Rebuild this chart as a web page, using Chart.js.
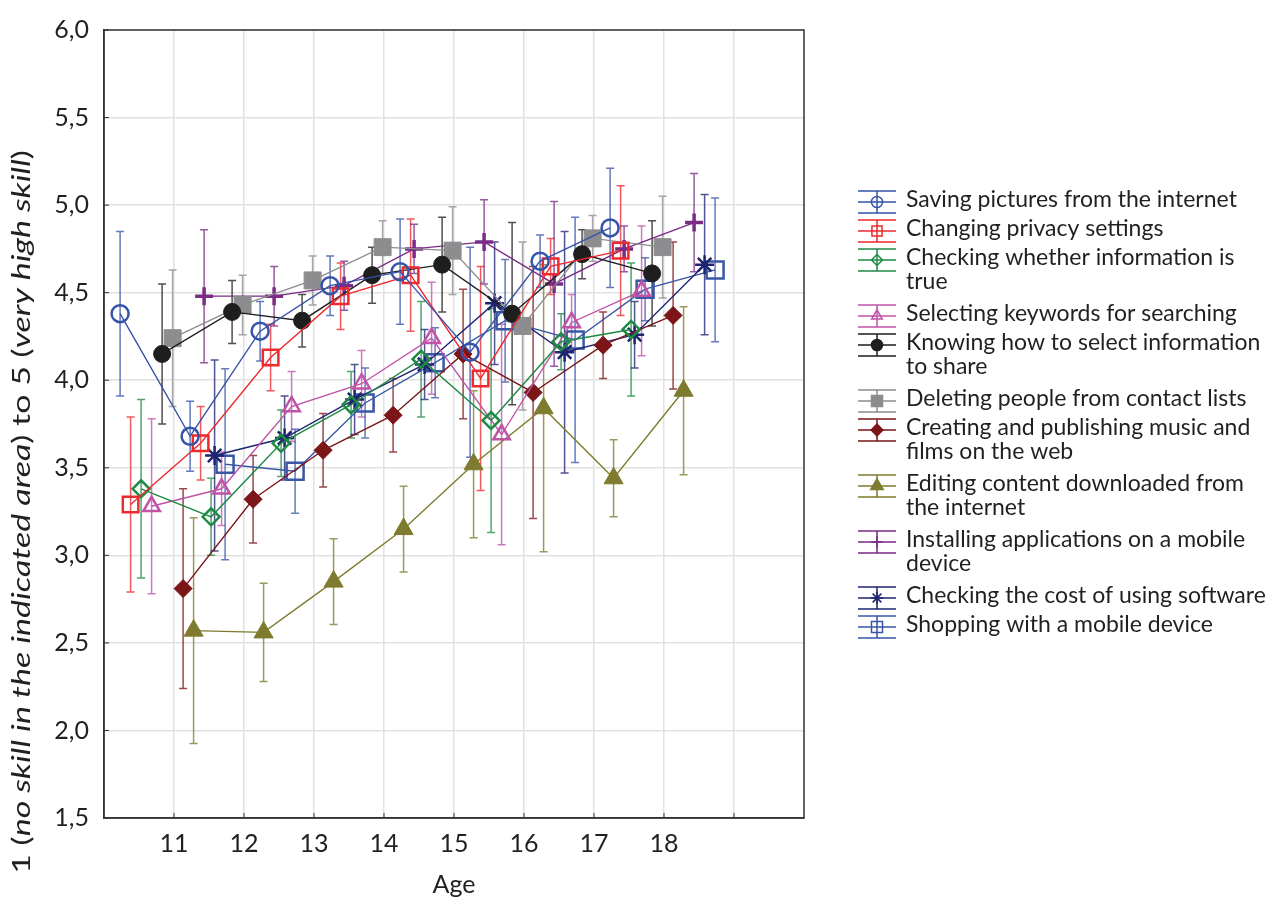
<!DOCTYPE html>
<html>
<head>
<meta charset="utf-8">
<script src="https://cdn.jsdelivr.net/npm/chart.js@4.4.1/dist/chart.umd.min.js"></script>
<style>
    html, body { margin: 0; padding: 0; background: #fff; }
    #wrap { width: 1276px; height: 904px; }
</style>
</head>
<body>
<div id="wrap"><canvas id="skills-chart" width="1276" height="904"></canvas></div>
<script>
// --- Data ---
const ages = [11, 12, 13, 14, 15, 16, 17, 18];

const seriesNames = [
    'Saving pictures from the internet',
    'Changing privacy settings',
    'Checking whether information is\ntrue',
    'Selecting keywords for searching',
    'Knowing how to select information\nto share',
    'Deleting people from contact lists',
    'Creating and publishing music and\nfilms on the web',
    'Editing content downloaded from\nthe internet',
    'Installing applications on a mobile\ndevice',
    'Checking the cost of using software',
    'Shopping with a mobile device'
];

// means per age
const savingPictures   = [4.38, 3.68, 4.28, 4.54, 4.62, 4.16, 4.68, 4.87];
const privacySettings  = [3.29, 3.64, 4.13, 4.48, 4.60, 4.01, 4.65, 4.74];
const checkingTrue     = [3.38, 3.22, 3.64, 3.86, 4.12, 3.77, 4.22, 4.29];
const selectKeywords   = [3.28, 3.38, 3.85, 3.98, 4.24, 3.69, 4.33, 4.51];
const selectToShare    = [4.15, 4.39, 4.34, 4.60, 4.66, 4.38, 4.72, 4.61];
const deletingContacts = [4.24, 4.43, 4.57, 4.76, 4.74, 4.31, 4.81, 4.76];
const creatingMusic    = [2.81, 3.32, 3.60, 3.80, 4.15, 3.93, 4.20, 4.37];
const editingContent   = [2.57, 2.56, 2.85, 3.15, 3.52, 3.84, 3.44, 3.94];
const installingApps   = [4.48, 4.48, 4.54, 4.75, 4.79, 4.55, 4.75, 4.90];
const checkingCost     = [3.57, 3.67, 3.89, 4.09, 4.44, 4.16, 4.26, 4.66];
const mobileShopping   = [3.52, 3.48, 3.87, 4.10, 4.34, 4.23, 4.52, 4.63];

// half-width of the confidence interval per age
const savingPicturesErr   = [0.47, 0.20, 0.17, 0.17, 0.30, 0.60, 0.15, 0.34];
const privacySettingsErr  = [0.50, 0.21, 0.19, 0.19, 0.32, 0.64, 0.16, 0.37];
const checkingTrueErr     = [0.51, 0.22, 0.19, 0.19, 0.33, 0.64, 0.16, 0.38];
const selectKeywordsErr   = [0.50, 0.21, 0.20, 0.19, 0.32, 0.63, 0.16, 0.37];
const selectToShareErr    = [0.40, 0.18, 0.15, 0.16, 0.27, 0.52, 0.14, 0.30];
const deletingContactsErr = [0.39, 0.17, 0.14, 0.15, 0.25, 0.48, 0.13, 0.29];
const creatingMusicErr    = [0.57, 0.25, 0.21, 0.21, 0.37, 0.72, 0.19, 0.42];
const editingContentErr   = [0.645, 0.28, 0.245, 0.245, 0.42, 0.82, 0.22, 0.48];
const installingAppsErr   = [0.38, 0.17, 0.14, 0.14, 0.24, 0.47, 0.13, 0.28];
const checkingCostErr     = [0.545, 0.24, 0.20, 0.20, 0.35, 0.69, 0.19, 0.40];
const mobileShoppingErr   = [0.545, 0.24, 0.20, 0.20, 0.35, 0.70, 0.18, 0.41];

const yTicks = [1.5, 2.0, 2.5, 3.0, 3.5, 4.0, 4.5, 5.0, 5.5, 6.0];

// --- Styles ---
const FONT = 'Lato, "Noto Sans", sans-serif';
const TEXT_COLOR = '#231f20';

const allMeans = [savingPictures, privacySettings, checkingTrue, selectKeywords, selectToShare,
    deletingContacts, creatingMusic, editingContent, installingApps, checkingCost, mobileShopping];
const allErrs = [savingPicturesErr, privacySettingsErr, checkingTrueErr, selectKeywordsErr, selectToShareErr,
    deletingContactsErr, creatingMusicErr, editingContentErr, installingAppsErr, checkingCostErr, mobileShoppingErr];

// colour, marker, size, filled?, stroke
const styles = [
    { color: '#3553a8', style: 'circle',   radius: 8.5, filled: false, stroke: 2.5 },
    { color: '#ed2a2e', style: 'rect',     radius: 11,  filled: false, stroke: 2.5 },
    { color: '#1f8a45', style: 'rectRot',  radius: 8.5, filled: false, stroke: 2.5 },
    { color: '#c053a8', style: 'triangle', radius: 9.5, filled: false, stroke: 2.5 },
    { color: '#1e1e1e', style: 'circle',   radius: 8.5, filled: true,  stroke: 1 },
    { color: '#8d8d8f', style: 'rect',     radius: 12,  filled: true,  stroke: 1 },
    { color: '#7b1518', style: 'rectRot',  radius: 9,   filled: true,  stroke: 1 },
    { color: '#7e7b2e', style: 'triangle', radius: 11,  filled: true,  stroke: 1 },
    { color: '#7b2a86', style: 'cross',    radius: 9,   filled: true,  stroke: 3.5 },
    { color: '#1f2471', style: 'star',     radius: 9.5, filled: true,  stroke: 2.5 },
    { color: '#3a57a6', style: 'rect',     radius: 12,  filled: false, stroke: 2.5 }
];

function withAlpha(hex, a) {
    const n = parseInt(hex.slice(1), 16);
    return `rgba(${(n >> 16) & 255}, ${(n >> 8) & 255}, ${n & 255}, ${a})`;
}

// series are dodged sideways around each age
const dodge = i => (i - 5) * 0.15 - 0.02;

const datasets = allMeans.map((means, i) => {
    const s = styles[i];
    return {
        label: seriesNames[i],
        data: means.map((v, k) => ({ x: ages[k] + dodge(i), y: v })),
        errors: allErrs[i],
        showLine: true,
        borderColor: s.color,
        borderWidth: 1.4,
        pointStyle: s.style,
        pointRadius: s.radius,
        pointHoverRadius: s.radius,
        pointBorderWidth: s.stroke,
        pointBorderColor: s.color,
        pointBackgroundColor: s.filled ? s.color : 'rgba(255,255,255,0)',
        backgroundColor: s.color
    };
});

// --- Plugins ---
// error bars, drawn under the markers
const errorBars = {
    id: 'errorBars',
    beforeDatasetsDraw(chart) {
        const { ctx, scales: { x, y } } = chart;
        ctx.save();
        chart.data.datasets.forEach((ds, i) => {
            ctx.strokeStyle = withAlpha(styles[i].color, 0.78);
            ctx.lineWidth = 1.5;
            ds.data.forEach((p, k) => {
                const px = x.getPixelForValue(p.x);
                const top = y.getPixelForValue(p.y + ds.errors[k]);
                const bot = y.getPixelForValue(p.y - ds.errors[k]);
                ctx.beginPath();
                ctx.moveTo(px, top); ctx.lineTo(px, bot);
                ctx.moveTo(px - 4, top); ctx.lineTo(px + 4, top);
                ctx.moveTo(px - 4, bot); ctx.lineTo(px + 4, bot);
                ctx.stroke();
            });
        });
        ctx.restore();
    }
};

// box around the plot and small inward ticks
const frame = {
    id: 'frame',
    afterDraw(chart) {
        const { ctx, chartArea: a, scales: { x, y } } = chart;
        ctx.save();
        ctx.strokeStyle = '#333';
        ctx.lineWidth = 1.5;
        ctx.strokeRect(a.left, a.top, a.right - a.left, a.bottom - a.top);
        ctx.lineWidth = 1;
        ctx.beginPath();
        for (let v = 11; v <= 19; v++) {
            const px = x.getPixelForValue(v);
            ctx.moveTo(px, a.bottom); ctx.lineTo(px, a.bottom - 5);
        }
        yTicks.forEach(v => {
            const py = y.getPixelForValue(v);
            ctx.moveTo(a.left, py); ctx.lineTo(a.left + 5, py);
        });
        ctx.stroke();
        ctx.restore();
    }
};

// rotated y title with italic parts (the original text is drawn stretched along its length)
const yTitle = {
    id: 'yTitle',
    afterDraw(chart) {
        const { ctx } = chart;
        const parts = [
            ['1 (', false], ['no skill in the indicated area', true], [') to 5 (', false],
            ['very high skill', true], [')', false]
        ];
        const fontFor = it => `${it ? 'italic ' : ''}25px ${FONT}`;
        const stretch = 1.36;
        ctx.save();
        let total = 0;
        parts.forEach(([t, it]) => { ctx.font = fontFor(it); total += ctx.measureText(t).width; });
        ctx.translate(22, 512);
        ctx.rotate(-Math.PI / 2);
        ctx.scale(stretch, 1);
        ctx.fillStyle = TEXT_COLOR;
        ctx.textBaseline = 'middle';
        let cx = -total / 2;
        parts.forEach(([t, it]) => {
            ctx.font = fontFor(it);
            ctx.fillText(t, cx, 0);
            cx += ctx.measureText(t).width;
        });
        ctx.restore();
    }
};

// legend on the right, wrapped labels
const sideLegend = {
    id: 'sideLegend',
    afterDraw(chart) {
        const { ctx } = chart;
        ctx.save();
        ctx.font = `23px ${FONT}`;
        ctx.textBaseline = 'middle';
        let y = 200;
        chart.data.datasets.forEach((ds, i) => {
            const s = styles[i];
            const lines = ds.label.split('\n');
            const sy = y + 2;
            ctx.strokeStyle = s.color;
            ctx.lineWidth = 1.5;
            ctx.beginPath();
            [-11, 0, 11].forEach(d => { ctx.moveTo(858, sy + d); ctx.lineTo(896, sy + d); });
            ctx.moveTo(877, sy - 11); ctx.lineTo(877, sy + 11);
            ctx.stroke();
            ctx.fillStyle = s.filled ? s.color : 'rgba(255,255,255,0)';
            Chart.helpers.drawPoint(ctx, {
                pointStyle: s.style,
                radius: s.radius * 0.65,
                rotation: 0,
                borderWidth: s.style === 'cross' ? 3 : 1.5
            }, 877, sy);
            ctx.fillStyle = TEXT_COLOR;
            lines.forEach((t, k) => ctx.fillText(t, 906, y + k * 23.5));
            y += 29 + (lines.length - 1) * 27;
        });
        ctx.restore();
    }
};

// --- Chart ---
new Chart(document.getElementById('skills-chart'), {
    type: 'scatter',
    data: { datasets },
    options: {
        responsive: false,
        animation: false,
        events: [],
        layout: { padding: { top: 17, right: 472, left: 0, bottom: 0 } },
        plugins: {
            legend: { display: false },
            tooltip: { enabled: false }
        },
        scales: {
            x: {
                type: 'linear',
                min: 10,
                max: 20,
                afterFit: s => { s.height = 86; },
                afterBuildTicks: s => { s.ticks = ages.concat([19]).map(v => ({ value: v })); },
                ticks: {
                    autoSkip: false,
                    maxRotation: 0,
                    padding: 11,
                    color: TEXT_COLOR,
                    font: { family: FONT, size: 25 },
                    callback: v => (ages.includes(v) ? String(v) : '')
                },
                grid: { color: '#e1e1e1', lineWidth: 1.5, drawTicks: false },
                border: { color: '#333', width: 1.5 },
                title: {
                    display: true,
                    text: 'Age',
                    color: TEXT_COLOR,
                    font: { family: FONT, size: 25 },
                    padding: { top: 0, bottom: 4 }
                }
            },
            y: {
                min: 1.5,
                max: 6,
                afterFit: s => { s.width = 104; },
                afterBuildTicks: s => { s.ticks = yTicks.map(v => ({ value: v })); },
                ticks: {
                    padding: 15,
                    color: TEXT_COLOR,
                    font: { family: FONT, size: 25 },
                    callback: v => v.toFixed(1).replace('.', ',')
                },
                grid: { color: '#e1e1e1', lineWidth: 1.5, drawTicks: false },
                border: { color: '#333', width: 1.5 }
            }
        }
    },
    plugins: [errorBars, frame, yTitle, sideLegend]
});
</script>
</body>
</html>
